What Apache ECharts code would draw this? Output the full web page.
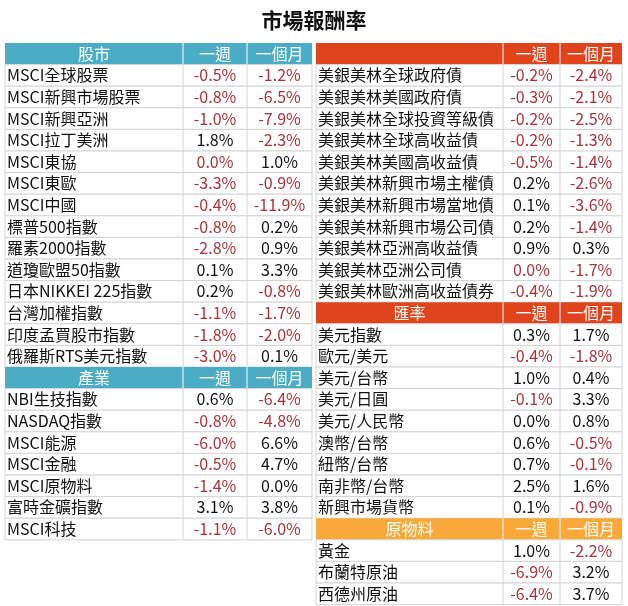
<!DOCTYPE html>
<html><head><meta charset="utf-8">
<script src="https://cdn.jsdelivr.net/npm/echarts@6/dist/echarts.min.js"></script>
<style>html,body{margin:0;padding:0;background:#fff}#main{width:628px;height:606px}</style>
</head><body><div id="main"></div>
<script>
// -0 marks a zero shown in red in the source
const stockNames = ['MSCI全球股票','MSCI新興市場股票','MSCI新興亞洲','MSCI拉丁美洲','MSCI東協','MSCI東歐','MSCI中國','標普500指數','羅素2000指數','道瓊歐盟50指數','日本NIKKEI 225指數','台灣加權指數','印度孟買股市指數','俄羅斯RTS美元指數'];
const stockWeek = [-0.5,-0.8,-1.0,1.8,-0,-3.3,-0.4,-0.8,-2.8,0.1,0.2,-1.1,-1.8,-3.0];
const stockMonth = [-1.2,-6.5,-7.9,-2.3,1.0,-0.9,-11.9,0.2,0.9,3.3,-0.8,-1.7,-2.0,0.1];
const sectorNames = ['NBI生技指數','NASDAQ指數','MSCI能源','MSCI金融','MSCI原物料','富時金礦指數','MSCI科技'];
const sectorWeek = [0.6,-0.8,-6.0,-0.5,-1.4,3.1,-1.1];
const sectorMonth = [-6.4,-4.8,6.6,4.7,0.0,3.8,-6.0];
const bondNames = ['美銀美林全球政府債','美銀美林美國政府債','美銀美林全球投資等級債','美銀美林全球高收益債','美銀美林美國高收益債','美銀美林新興市場主權債','美銀美林新興市場當地債','美銀美林新興市場公司債','美銀美林亞洲高收益債','美銀美林亞洲公司債','美銀美林歐洲高收益債券'];
const bondWeek = [-0.2,-0.3,-0.2,-0.2,-0.5,0.2,0.1,0.2,0.9,-0,-0.4];
const bondMonth = [-2.4,-2.1,-2.5,-1.3,-1.4,-2.6,-3.6,-1.4,0.3,-1.7,-1.9];
const fxNames = ['美元指數','歐元/美元','美元/台幣','美元/日圓','美元/人民幣','澳幣/台幣','紐幣/台幣','南非幣/台幣','新興市場貨幣'];
const fxWeek = [0.3,-0.4,1.0,-0.1,0.0,0.6,0.7,2.5,0.1];
const fxMonth = [1.7,-1.8,0.4,3.3,0.8,-0.5,-0.1,1.6,-0.9];
const comNames = ['黃金','布蘭特原油','西德州原油'];
const comWeek = [1.0,-6.9,-6.4];
const comMonth = [-2.2,3.2,3.7];
const colHeads = ['一週','一個月'];

const font = '"Noto Sans CJK TC", sans-serif';
const rowH = 21.6, top0 = 43;
const RED = '#a8323a', GRID = '#d4d4d4';
const els = [];
function isRed(v) { return v < 0 || Object.is(v, -0); }
function block(x, cols, startRow, title, color, names, wk, mo) {
  const w = cols[0] + cols[1] + cols[2];
  let y = top0 + startRow * rowH;
  els.push({type:'rect', shape:{x:x, y:y, width:w, height:rowH}, style:{fill:color}});
  const heads = [title].concat(colHeads);
  let cx = x;
  heads.forEach((h, i) => {
    els.push({type:'text', x:cx + cols[i] / 2, y:y + rowH / 2,
      style:{text:h, fill:'#fff', font:'16px ' + font, align:'center', verticalAlign:'middle'}});
    if (i > 0) els.push({type:'line', shape:{x1:cx, y1:y, x2:cx, y2:y + rowH}, style:{stroke:'#fff', lineWidth:1}});
    cx += cols[i];
  });
  names.forEach((n, r) => {
    const yy = y + (r + 1) * rowH;
    els.push({type:'rect', shape:{x:x, y:yy, width:w, height:rowH}, style:{fill:'#fff', stroke:GRID, lineWidth:1}});
    els.push({type:'line', shape:{x1:x + cols[0], y1:yy, x2:x + cols[0], y2:yy + rowH}, style:{stroke:GRID}});
    els.push({type:'line', shape:{x1:x + cols[0] + cols[1], y1:yy, x2:x + cols[0] + cols[1], y2:yy + rowH}, style:{stroke:GRID}});
    els.push({type:'text', x:x + 2, y:yy + rowH / 2,
      style:{text:n, fill:'#111', font:'16px ' + font, align:'left', verticalAlign:'middle'}});
    [wk[r], mo[r]].forEach((v, j) => {
      const xc = x + cols[0] + (j ? cols[1] : 0) + cols[j + 1] / 2;
      const s = (v === 0 ? '0.0' : v.toFixed(1)) + '%';
      els.push({type:'text', x:xc, y:yy + rowH / 2,
        style:{text:s, fill:isRed(v) ? RED : '#111', font:'16px ' + font, align:'center', verticalAlign:'middle'}});
    });
  });
}
const L = [178, 64, 65], R = [187, 57, 62];
block(5, L, 0, '股市', '#4bacc6', stockNames, stockWeek, stockMonth);
block(5, L, 15, '產業', '#4bacc6', sectorNames, sectorWeek, sectorMonth);
block(316, R, 0, '', '#e0441c', bondNames, bondWeek, bondMonth);
block(316, R, 12, '匯率', '#e0441c', fxNames, fxWeek, fxMonth);
block(316, R, 22, '原物料', '#f9a93a', comNames, comWeek, comMonth);

const chart = echarts.init(document.getElementById('main'));
chart.setOption({
  title: {text:'市場報酬率', left:'center', top:5, textStyle:{fontFamily:font, fontSize:21, fontWeight:'bold', color:'#111'}},
  graphic: els
});
</script></body></html>
